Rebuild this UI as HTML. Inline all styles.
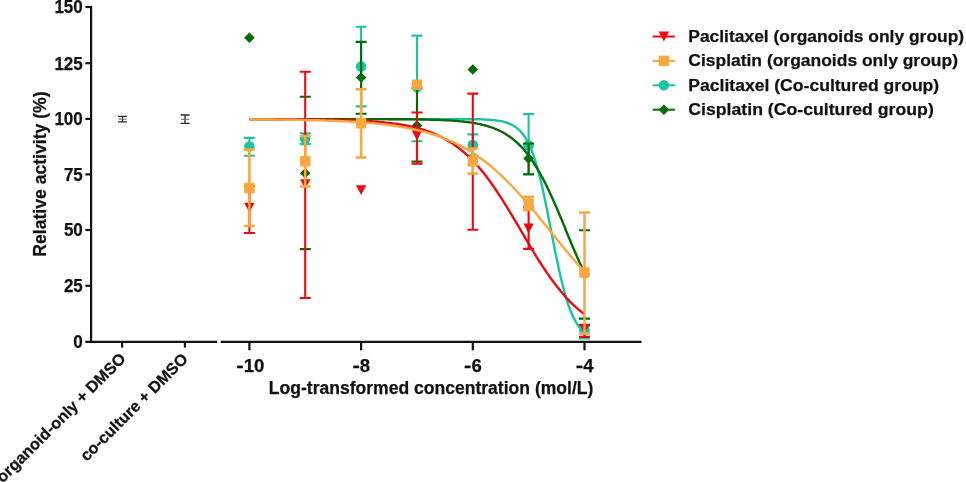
<!DOCTYPE html>
<html lang="en"><head><meta charset="utf-8"><title>Dose response</title>
<style>html,body{margin:0;padding:0;background:#fff}svg{display:block}text{font-family:"Liberation Sans",Arial,sans-serif;font-weight:bold;fill:#111;stroke:#111;stroke-width:0.25px}</style></head><body>
<svg width="966" height="482" viewBox="0 0 966 482">
<rect width="966" height="482" fill="#fff"/>
<g id="teal">
<polyline fill="none" stroke="#19C4A0" stroke-width="2.4" stroke-linejoin="round" points="249.4,119.1 250.8,119.1 252.2,119.1 253.6,119.1 255.0,119.1 256.4,119.1 257.8,119.1 259.2,119.1 260.6,119.1 262.0,119.1 263.4,119.1 264.8,119.1 266.2,119.1 267.6,119.1 268.9,119.1 270.3,119.1 271.7,119.1 273.1,119.1 274.5,119.1 275.9,119.1 277.3,119.1 278.7,119.1 280.1,119.1 281.5,119.1 282.9,119.1 284.3,119.1 285.7,119.1 287.1,119.1 288.5,119.1 289.9,119.1 291.3,119.1 292.7,119.1 294.1,119.1 295.5,119.1 296.9,119.1 298.3,119.1 299.7,119.1 301.1,119.1 302.5,119.1 303.9,119.1 305.2,119.1 306.6,119.1 308.0,119.1 309.4,119.1 310.8,119.1 312.2,119.1 313.6,119.1 315.0,119.1 316.4,119.1 317.8,119.1 319.2,119.1 320.6,119.1 322.0,119.1 323.4,119.1 324.8,119.1 326.2,119.1 327.6,119.1 329.0,119.1 330.4,119.1 331.8,119.1 333.2,119.1 334.6,119.1 336.0,119.1 337.4,119.1 338.8,119.1 340.2,119.1 341.6,119.1 342.9,119.1 344.3,119.1 345.7,119.1 347.1,119.1 348.5,119.1 349.9,119.1 351.3,119.1 352.7,119.1 354.1,119.1 355.5,119.1 356.9,119.1 358.3,119.1 359.7,119.1 361.1,119.1 362.5,119.1 363.9,119.1 365.3,119.1 366.7,119.1 368.1,119.1 369.5,119.1 370.9,119.1 372.3,119.1 373.7,119.1 375.1,119.1 376.5,119.1 377.9,119.1 379.3,119.1 380.6,119.1 382.0,119.1 383.4,119.1 384.8,119.1 386.2,119.1 387.6,119.1 389.0,119.1 390.4,119.1 391.8,119.1 393.2,119.1 394.6,119.1 396.0,119.1 397.4,119.1 398.8,119.1 400.2,119.1 401.6,119.1 403.0,119.1 404.4,119.1 405.8,119.1 407.2,119.1 408.6,119.1 410.0,119.1 411.4,119.1 412.8,119.1 414.2,119.1 415.6,119.1 417.0,119.1 418.3,119.1 419.7,119.1 421.1,119.1 422.5,119.1 423.9,119.1 425.3,119.1 426.7,119.1 428.1,119.1 429.5,119.1 430.9,119.1 432.3,119.1 433.7,119.1 435.1,119.1 436.5,119.1 437.9,119.1 439.3,119.1 440.7,119.1 442.1,119.1 443.5,119.1 444.9,119.1 446.3,119.1 447.7,119.1 449.1,119.1 450.5,119.1 451.9,119.1 453.3,119.1 454.6,119.1 456.0,119.1 457.4,119.1 458.8,119.1 460.2,119.1 461.6,119.1 463.0,119.1 464.4,119.1 465.8,119.1 467.2,119.1 468.6,119.2 470.0,119.2 471.4,119.2 472.8,119.2 474.2,119.2 475.6,119.3 477.0,119.3 478.4,119.3 479.8,119.3 481.2,119.4 482.6,119.4 484.0,119.5 485.4,119.6 486.8,119.6 488.2,119.7 489.6,119.8 491.0,119.9 492.3,120.0 493.7,120.1 495.1,120.3 496.5,120.5 497.9,120.6 499.3,120.9 500.7,121.1 502.1,121.4 503.5,121.7 504.9,122.1 506.3,122.5 507.7,123.0 509.1,123.5 510.5,124.1 511.9,124.8 513.3,125.5 514.7,126.4 516.1,127.4 517.5,128.5 518.9,129.7 520.3,131.1 521.7,132.7 523.1,134.5 524.5,136.4 525.9,138.6 527.3,141.1 528.6,143.8 530.0,146.8 531.4,150.1 532.8,153.7 534.2,157.7 535.6,162.0 537.0,166.6 538.4,171.7 539.8,177.1 541.2,182.8 542.6,188.8 544.0,195.2 545.4,201.8 546.8,208.7 548.2,215.7 549.6,222.9 551.0,230.1 552.4,237.3 553.8,244.5 555.2,251.5 556.6,258.4 558.0,265.1 559.4,271.5 560.8,277.6 562.2,283.3 563.6,288.8 565.0,293.9 566.3,298.6 567.7,303.0 569.1,307.0 570.5,310.7 571.9,314.0 573.3,317.1 574.7,319.8 576.1,322.3 577.5,324.5 578.9,326.5 580.3,328.3 581.7,329.9 583.1,331.3 584.5,332.6"/>
<path d="M249.4 137.9V155.7M243.9 137.9h11M243.9 155.7h11" fill="none" stroke="#19C4A0" stroke-width="2.1"/>
<circle cx="249.4" cy="146.6" r="5.3" fill="#19C4A0"/>
<path d="M305.2 133.3V144.1M299.8 133.3h11M299.8 144.1h11" fill="none" stroke="#19C4A0" stroke-width="2.1"/>
<circle cx="305.2" cy="138.7" r="5.3" fill="#19C4A0"/>
<path d="M361.1 26.7V106.4M355.6 26.7h11M355.6 106.4h11" fill="none" stroke="#19C4A0" stroke-width="2.1"/>
<circle cx="361.1" cy="66.5" r="5.3" fill="#19C4A0"/>
<path d="M417.0 35.6V141.2M411.5 35.6h11M411.5 141.2h11" fill="none" stroke="#19C4A0" stroke-width="2.1"/>
<circle cx="417.0" cy="87.2" r="5.3" fill="#19C4A0"/>
<path d="M472.8 134.4V155.6M467.3 134.4h11M467.3 155.6h11" fill="none" stroke="#19C4A0" stroke-width="2.1"/>
<circle cx="472.8" cy="145.0" r="5.3" fill="#19C4A0"/>
<path d="M528.6 114.1V174.5M523.1 114.1h11M523.1 174.5h11" fill="none" stroke="#19C4A0" stroke-width="2.1"/>
<circle cx="528.6" cy="145.4" r="5.3" fill="#19C4A0"/>
<path d="M584.5 326.0V338.4M579.0 326.0h11M579.0 338.4h11" fill="none" stroke="#19C4A0" stroke-width="2.1"/>
<circle cx="584.5" cy="330.0" r="5.3" fill="#19C4A0"/>
</g>
<g id="green">
<polyline fill="none" stroke="#056A08" stroke-width="2.4" stroke-linejoin="round" points="249.4,119.1 250.8,119.1 252.2,119.1 253.6,119.1 255.0,119.1 256.4,119.1 257.8,119.1 259.2,119.1 260.6,119.1 262.0,119.1 263.4,119.1 264.8,119.1 266.2,119.1 267.6,119.1 268.9,119.1 270.3,119.1 271.7,119.1 273.1,119.1 274.5,119.1 275.9,119.1 277.3,119.1 278.7,119.1 280.1,119.1 281.5,119.1 282.9,119.1 284.3,119.1 285.7,119.1 287.1,119.1 288.5,119.1 289.9,119.1 291.3,119.1 292.7,119.1 294.1,119.1 295.5,119.1 296.9,119.1 298.3,119.1 299.7,119.1 301.1,119.1 302.5,119.1 303.9,119.1 305.2,119.1 306.6,119.1 308.0,119.1 309.4,119.1 310.8,119.1 312.2,119.1 313.6,119.1 315.0,119.1 316.4,119.1 317.8,119.1 319.2,119.1 320.6,119.1 322.0,119.1 323.4,119.1 324.8,119.1 326.2,119.1 327.6,119.1 329.0,119.1 330.4,119.1 331.8,119.1 333.2,119.1 334.6,119.1 336.0,119.1 337.4,119.1 338.8,119.1 340.2,119.1 341.6,119.1 342.9,119.1 344.3,119.1 345.7,119.1 347.1,119.1 348.5,119.1 349.9,119.1 351.3,119.1 352.7,119.1 354.1,119.1 355.5,119.1 356.9,119.1 358.3,119.1 359.7,119.1 361.1,119.1 362.5,119.1 363.9,119.1 365.3,119.1 366.7,119.1 368.1,119.1 369.5,119.1 370.9,119.1 372.3,119.1 373.7,119.1 375.1,119.1 376.5,119.1 377.9,119.1 379.3,119.1 380.6,119.1 382.0,119.1 383.4,119.1 384.8,119.1 386.2,119.1 387.6,119.1 389.0,119.2 390.4,119.2 391.8,119.2 393.2,119.2 394.6,119.2 396.0,119.2 397.4,119.2 398.8,119.2 400.2,119.2 401.6,119.2 403.0,119.2 404.4,119.2 405.8,119.3 407.2,119.3 408.6,119.3 410.0,119.3 411.4,119.3 412.8,119.3 414.2,119.4 415.6,119.4 417.0,119.4 418.3,119.4 419.7,119.4 421.1,119.5 422.5,119.5 423.9,119.5 425.3,119.5 426.7,119.6 428.1,119.6 429.5,119.6 430.9,119.7 432.3,119.7 433.7,119.8 435.1,119.8 436.5,119.8 437.9,119.9 439.3,119.9 440.7,120.0 442.1,120.1 443.5,120.1 444.9,120.2 446.3,120.3 447.7,120.3 449.1,120.4 450.5,120.5 451.9,120.6 453.3,120.7 454.6,120.8 456.0,120.9 457.4,121.0 458.8,121.1 460.2,121.3 461.6,121.4 463.0,121.5 464.4,121.7 465.8,121.9 467.2,122.0 468.6,122.2 470.0,122.4 471.4,122.6 472.8,122.8 474.2,123.1 475.6,123.3 477.0,123.6 478.4,123.9 479.8,124.2 481.2,124.5 482.6,124.8 484.0,125.1 485.4,125.5 486.8,125.9 488.2,126.3 489.6,126.8 491.0,127.2 492.3,127.7 493.7,128.2 495.1,128.8 496.5,129.4 497.9,130.0 499.3,130.6 500.7,131.3 502.1,132.0 503.5,132.8 504.9,133.6 506.3,134.5 507.7,135.4 509.1,136.3 510.5,137.3 511.9,138.3 513.3,139.4 514.7,140.6 516.1,141.8 517.5,143.1 518.9,144.4 520.3,145.8 521.7,147.3 523.1,148.8 524.5,150.4 525.9,152.1 527.3,153.8 528.6,155.6 530.0,157.5 531.4,159.5 532.8,161.5 534.2,163.7 535.6,165.9 537.0,168.2 538.4,170.5 539.8,173.0 541.2,175.5 542.6,178.1 544.0,180.8 545.4,183.5 546.8,186.3 548.2,189.2 549.6,192.2 551.0,195.2 552.4,198.3 553.8,201.4 555.2,204.6 556.6,207.8 558.0,211.1 559.4,214.4 560.8,217.7 562.2,221.0 563.6,224.4 565.0,227.8 566.3,231.2 567.7,234.6 569.1,238.0 570.5,241.3 571.9,244.7 573.3,248.0 574.7,251.3 576.1,254.5 577.5,257.8 578.9,260.9 580.3,264.0 581.7,267.1 583.1,270.1 584.5,273.0"/>
<path d="M249.4 32.5l5.3 5.3l-5.3 5.3l-5.3 -5.3z" fill="#056A08"/>
<path d="M299.8 96.8h11M299.8 249.1h11" fill="none" stroke="#056A08" stroke-width="2.1"/>
<path d="M305.2 167.9l5.3 5.3l-5.3 5.3l-5.3 -5.3z" fill="#056A08"/>
<path d="M361.1 41.9V113.8M355.6 41.9h11M355.6 113.8h11" fill="none" stroke="#056A08" stroke-width="2.1"/>
<path d="M361.1 72.2l5.3 5.3l-5.3 5.3l-5.3 -5.3z" fill="#056A08"/>
<path d="M417.0 88.5V161.5M411.5 88.5h11M411.5 161.5h11" fill="none" stroke="#056A08" stroke-width="2.1"/>
<path d="M417.0 120.3l5.3 5.3l-5.3 5.3l-5.3 -5.3z" fill="#056A08"/>
<path d="M472.8 64.2l5.3 5.3l-5.3 5.3l-5.3 -5.3z" fill="#056A08"/>
<path d="M528.6 143.5V174.3M523.1 143.5h11M523.1 174.3h11" fill="none" stroke="#056A08" stroke-width="2.1"/>
<path d="M528.6 153.2l5.3 5.3l-5.3 5.3l-5.3 -5.3z" fill="#056A08"/>
<path d="M579.0 230.2h11M579.0 318.6h11" fill="none" stroke="#056A08" stroke-width="2.1"/>
<path d="M584.5 268.7l5.3 5.3l-5.3 5.3l-5.3 -5.3z" fill="#056A08"/>
</g>
<g id="red">
<polyline fill="none" stroke="#EC0A12" stroke-width="2.4" stroke-linejoin="round" points="249.4,119.1 250.8,119.1 252.2,119.1 253.6,119.1 255.0,119.1 256.4,119.1 257.8,119.1 259.2,119.1 260.6,119.1 262.0,119.1 263.4,119.1 264.8,119.1 266.2,119.1 267.6,119.1 268.9,119.2 270.3,119.2 271.7,119.2 273.1,119.2 274.5,119.2 275.9,119.2 277.3,119.2 278.7,119.2 280.1,119.2 281.5,119.2 282.9,119.2 284.3,119.2 285.7,119.2 287.1,119.2 288.5,119.2 289.9,119.2 291.3,119.2 292.7,119.3 294.1,119.3 295.5,119.3 296.9,119.3 298.3,119.3 299.7,119.3 301.1,119.3 302.5,119.3 303.9,119.3 305.2,119.4 306.6,119.4 308.0,119.4 309.4,119.4 310.8,119.4 312.2,119.4 313.6,119.4 315.0,119.5 316.4,119.5 317.8,119.5 319.2,119.5 320.6,119.5 322.0,119.6 323.4,119.6 324.8,119.6 326.2,119.6 327.6,119.7 329.0,119.7 330.4,119.7 331.8,119.7 333.2,119.8 334.6,119.8 336.0,119.8 337.4,119.9 338.8,119.9 340.2,119.9 341.6,120.0 342.9,120.0 344.3,120.1 345.7,120.1 347.1,120.1 348.5,120.2 349.9,120.2 351.3,120.3 352.7,120.3 354.1,120.4 355.5,120.5 356.9,120.5 358.3,120.6 359.7,120.7 361.1,120.7 362.5,120.8 363.9,120.9 365.3,120.9 366.7,121.0 368.1,121.1 369.5,121.2 370.9,121.3 372.3,121.4 373.7,121.5 375.1,121.6 376.5,121.7 377.9,121.8 379.3,121.9 380.6,122.1 382.0,122.2 383.4,122.3 384.8,122.5 386.2,122.6 387.6,122.8 389.0,122.9 390.4,123.1 391.8,123.3 393.2,123.5 394.6,123.6 396.0,123.8 397.4,124.0 398.8,124.3 400.2,124.5 401.6,124.7 403.0,124.9 404.4,125.2 405.8,125.5 407.2,125.7 408.6,126.0 410.0,126.3 411.4,126.6 412.8,126.9 414.2,127.3 415.6,127.6 417.0,128.0 418.3,128.3 419.7,128.7 421.1,129.1 422.5,129.5 423.9,130.0 425.3,130.4 426.7,130.9 428.1,131.4 429.5,131.9 430.9,132.4 432.3,133.0 433.7,133.5 435.1,134.1 436.5,134.7 437.9,135.4 439.3,136.0 440.7,136.7 442.1,137.4 443.5,138.2 444.9,138.9 446.3,139.7 447.7,140.5 449.1,141.4 450.5,142.2 451.9,143.1 453.3,144.1 454.6,145.0 456.0,146.0 457.4,147.1 458.8,148.1 460.2,149.2 461.6,150.3 463.0,151.5 464.4,152.7 465.8,154.0 467.2,155.2 468.6,156.5 470.0,157.9 471.4,159.3 472.8,160.7 474.2,162.2 475.6,163.7 477.0,165.2 478.4,166.8 479.8,168.4 481.2,170.1 482.6,171.8 484.0,173.5 485.4,175.3 486.8,177.1 488.2,179.0 489.6,180.9 491.0,182.8 492.3,184.8 493.7,186.7 495.1,188.8 496.5,190.8 497.9,192.9 499.3,195.1 500.7,197.2 502.1,199.4 503.5,201.6 504.9,203.8 506.3,206.1 507.7,208.4 509.1,210.7 510.5,213.0 511.9,215.3 513.3,217.7 514.7,220.0 516.1,222.4 517.5,224.7 518.9,227.1 520.3,229.5 521.7,231.9 523.1,234.3 524.5,236.6 525.9,239.0 527.3,241.4 528.6,243.7 530.0,246.1 531.4,248.4 532.8,250.7 534.2,253.0 535.6,255.3 537.0,257.6 538.4,259.8 539.8,262.0 541.2,264.2 542.6,266.3 544.0,268.4 545.4,270.5 546.8,272.6 548.2,274.6 549.6,276.6 551.0,278.6 552.4,280.5 553.8,282.4 555.2,284.3 556.6,286.1 558.0,287.8 559.4,289.6 560.8,291.3 562.2,292.9 563.6,294.6 565.0,296.1 566.3,297.7 567.7,299.2 569.1,300.6 570.5,302.1 571.9,303.5 573.3,304.8 574.7,306.1 576.1,307.4 577.5,308.6 578.9,309.8 580.3,311.0 581.7,312.1 583.1,313.2 584.5,314.3"/>
<path d="M249.4 186.0V233.0M243.9 186.0h11M243.9 233.0h11" fill="none" stroke="#EC0A12" stroke-width="2.1"/>
<path d="M244.2 202.7h10.4l-5.2 9.8z" fill="#EC0A12"/>
<path d="M305.2 71.7V298.0M299.8 71.7h11M299.8 298.0h11" fill="none" stroke="#EC0A12" stroke-width="2.1"/>
<path d="M300.1 179.3h10.4l-5.2 9.8z" fill="#EC0A12"/>
<path d="M355.9 185.2h10.4l-5.2 9.8z" fill="#EC0A12"/>
<path d="M417.0 112.5V163.6M411.5 112.5h11M411.5 163.6h11" fill="none" stroke="#EC0A12" stroke-width="2.1"/>
<path d="M411.8 130.6h10.4l-5.2 9.8z" fill="#EC0A12"/>
<path d="M472.8 93.6V229.7M467.3 93.6h11M467.3 229.7h11" fill="none" stroke="#EC0A12" stroke-width="2.1"/>
<path d="M467.6 156.8h10.4l-5.2 9.8z" fill="#EC0A12"/>
<path d="M528.6 207.0V248.9M523.1 207.0h11M523.1 248.9h11" fill="none" stroke="#EC0A12" stroke-width="2.1"/>
<path d="M523.4 223.5h10.4l-5.2 9.8z" fill="#EC0A12"/>
<path d="M584.5 325.0V336.9M579.0 325.0h11M579.0 336.9h11" fill="none" stroke="#EC0A12" stroke-width="2.1"/>
<path d="M579.3 323.7h10.4l-5.2 9.8z" fill="#EC0A12"/>
</g>
<g id="orange">
<polyline fill="none" stroke="#FBA740" stroke-width="2.4" stroke-linejoin="round" points="249.4,119.3 250.8,119.3 252.2,119.3 253.6,119.3 255.0,119.4 256.4,119.4 257.8,119.4 259.2,119.4 260.6,119.4 262.0,119.4 263.4,119.4 264.8,119.4 266.2,119.4 267.6,119.5 268.9,119.5 270.3,119.5 271.7,119.5 273.1,119.5 274.5,119.5 275.9,119.5 277.3,119.6 278.7,119.6 280.1,119.6 281.5,119.6 282.9,119.6 284.3,119.6 285.7,119.7 287.1,119.7 288.5,119.7 289.9,119.7 291.3,119.7 292.7,119.8 294.1,119.8 295.5,119.8 296.9,119.8 298.3,119.9 299.7,119.9 301.1,119.9 302.5,119.9 303.9,120.0 305.2,120.0 306.6,120.0 308.0,120.1 309.4,120.1 310.8,120.1 312.2,120.2 313.6,120.2 315.0,120.2 316.4,120.3 317.8,120.3 319.2,120.3 320.6,120.4 322.0,120.4 323.4,120.5 324.8,120.5 326.2,120.6 327.6,120.6 329.0,120.7 330.4,120.7 331.8,120.8 333.2,120.8 334.6,120.9 336.0,120.9 337.4,121.0 338.8,121.0 340.2,121.1 341.6,121.2 342.9,121.2 344.3,121.3 345.7,121.4 347.1,121.4 348.5,121.5 349.9,121.6 351.3,121.7 352.7,121.8 354.1,121.8 355.5,121.9 356.9,122.0 358.3,122.1 359.7,122.2 361.1,122.3 362.5,122.4 363.9,122.5 365.3,122.6 366.7,122.7 368.1,122.8 369.5,123.0 370.9,123.1 372.3,123.2 373.7,123.3 375.1,123.5 376.5,123.6 377.9,123.8 379.3,123.9 380.6,124.0 382.0,124.2 383.4,124.4 384.8,124.5 386.2,124.7 387.6,124.9 389.0,125.0 390.4,125.2 391.8,125.4 393.2,125.6 394.6,125.8 396.0,126.0 397.4,126.2 398.8,126.5 400.2,126.7 401.6,126.9 403.0,127.2 404.4,127.4 405.8,127.7 407.2,127.9 408.6,128.2 410.0,128.5 411.4,128.8 412.8,129.0 414.2,129.3 415.6,129.7 417.0,130.0 418.3,130.3 419.7,130.6 421.1,131.0 422.5,131.4 423.9,131.7 425.3,132.1 426.7,132.5 428.1,132.9 429.5,133.3 430.9,133.7 432.3,134.1 433.7,134.6 435.1,135.0 436.5,135.5 437.9,136.0 439.3,136.5 440.7,137.0 442.1,137.5 443.5,138.1 444.9,138.6 446.3,139.2 447.7,139.7 449.1,140.3 450.5,140.9 451.9,141.6 453.3,142.2 454.6,142.9 456.0,143.5 457.4,144.2 458.8,144.9 460.2,145.6 461.6,146.4 463.0,147.1 464.4,147.9 465.8,148.7 467.2,149.5 468.6,150.3 470.0,151.2 471.4,152.1 472.8,152.9 474.2,153.9 475.6,154.8 477.0,155.7 478.4,156.7 479.8,157.7 481.2,158.7 482.6,159.7 484.0,160.8 485.4,161.8 486.8,162.9 488.2,164.0 489.6,165.1 491.0,166.3 492.3,167.5 493.7,168.7 495.1,169.9 496.5,171.1 497.9,172.4 499.3,173.6 500.7,174.9 502.1,176.2 503.5,177.6 504.9,178.9 506.3,180.3 507.7,181.7 509.1,183.1 510.5,184.5 511.9,186.0 513.3,187.5 514.7,189.0 516.1,190.5 517.5,192.0 518.9,193.5 520.3,195.1 521.7,196.6 523.1,198.2 524.5,199.8 525.9,201.4 527.3,203.1 528.6,204.7 530.0,206.4 531.4,208.0 532.8,209.7 534.2,211.4 535.6,213.1 537.0,214.8 538.4,216.5 539.8,218.2 541.2,219.9 542.6,221.6 544.0,223.4 545.4,225.1 546.8,226.8 548.2,228.6 549.6,230.3 551.0,232.0 552.4,233.8 553.8,235.5 555.2,237.2 556.6,239.0 558.0,240.7 559.4,242.4 560.8,244.1 562.2,245.9 563.6,247.6 565.0,249.3 566.3,250.9 567.7,252.6 569.1,254.3 570.5,255.9 571.9,257.6 573.3,259.2 574.7,260.8 576.1,262.4 577.5,264.0 578.9,265.6 580.3,267.2 581.7,268.7 583.1,270.2 584.5,271.7"/>
<path d="M249.4 149.5V226.0M243.9 149.5h11M243.9 226.0h11" fill="none" stroke="#FBA740" stroke-width="2.5"/>
<rect x="244.2" y="182.8" width="10.4" height="10.4" fill="#FBA740"/>
<path d="M305.2 136.1V186.4M299.8 136.1h11M299.8 186.4h11" fill="none" stroke="#FBA740" stroke-width="2.5"/>
<rect x="300.1" y="156.1" width="10.4" height="10.4" fill="#FBA740"/>
<path d="M361.1 89.2V157.5M355.6 89.2h11M355.6 157.5h11" fill="none" stroke="#FBA740" stroke-width="2.5"/>
<rect x="355.9" y="118.1" width="10.4" height="10.4" fill="#FBA740"/>
<rect x="411.8" y="79.5" width="10.4" height="10.4" fill="#FBA740"/>
<path d="M472.8 148.5V173.6M467.3 148.5h11M467.3 173.6h11" fill="none" stroke="#FBA740" stroke-width="2.5"/>
<rect x="467.6" y="156.1" width="10.4" height="10.4" fill="#FBA740"/>
<path d="M528.6 196.8V210.0M523.1 196.8h11M523.1 210.0h11" fill="none" stroke="#FBA740" stroke-width="2.5"/>
<rect x="523.4" y="198.5" width="10.4" height="10.4" fill="#FBA740"/>
<path d="M584.5 212.4V333.4M579.0 212.4h11M579.0 333.4h11" fill="none" stroke="#FBA740" stroke-width="2.5"/>
<rect x="579.3" y="267.3" width="10.4" height="10.4" fill="#FBA740"/>
</g>
<g stroke="#2a2a2a" stroke-width="1.3" fill="none">
<path d="M118 116.3h9M118 121.8h9M122.5 116.3v5.5"/><path d="M118.5 119.1h8" stroke="#666" stroke-width="1"/>
<path d="M180.6 115h9M180.6 123.4h9M185 115v8.4"/><path d="M181 119.3h8" stroke="#666" stroke-width="1"/>
</g>
<g stroke="#111" stroke-width="2.2" fill="none">
<path d="M91.1 6V342.9"/>
<path d="M85.4 341.8H217.2M220.7 341.8H641.5"/>
<path d="M85.4 7.0H91"/>
<path d="M85.4 63.2H91"/>
<path d="M85.4 118.9H91"/>
<path d="M85.4 174.4H91"/>
<path d="M85.4 230.0H91"/>
<path d="M85.4 285.8H91"/>
<path d="M122.1 341.8V347.6"/>
<path d="M184.9 341.8V347.6"/>
<path d="M249.4 341.8V350.3"/>
<path d="M361.1 341.8V350.3"/>
<path d="M472.8 341.8V350.3"/>
<path d="M584.5 341.8V350.3"/>
</g>
<text x="54.4" y="13.4" font-size="17.9" textLength="28.4" lengthAdjust="spacingAndGlyphs">150</text>
<text x="54.4" y="69.6" font-size="17.9" textLength="28.4" lengthAdjust="spacingAndGlyphs">125</text>
<text x="54.4" y="125.3" font-size="17.9" textLength="28.4" lengthAdjust="spacingAndGlyphs">100</text>
<text x="63.9" y="180.8" font-size="17.9" textLength="18.9" lengthAdjust="spacingAndGlyphs">75</text>
<text x="63.9" y="236.4" font-size="17.9" textLength="18.9" lengthAdjust="spacingAndGlyphs">50</text>
<text x="63.9" y="292.2" font-size="17.9" textLength="18.9" lengthAdjust="spacingAndGlyphs">25</text>
<text x="73.3" y="348.2" font-size="17.9" textLength="9.5" lengthAdjust="spacingAndGlyphs">0</text>
<text x="236.3" y="371.9" font-size="17.8"><tspan textLength="7.4" lengthAdjust="spacingAndGlyphs">-</tspan><tspan textLength="20.7" lengthAdjust="spacingAndGlyphs">10</tspan></text>
<text x="352.4" y="371.9" font-size="17.8"><tspan textLength="7.4" lengthAdjust="spacingAndGlyphs">-</tspan><tspan textLength="10.3" lengthAdjust="spacingAndGlyphs">8</tspan></text>
<text x="464.1" y="371.9" font-size="17.8"><tspan textLength="7.4" lengthAdjust="spacingAndGlyphs">-</tspan><tspan textLength="10.3" lengthAdjust="spacingAndGlyphs">6</tspan></text>
<text x="575.8" y="371.9" font-size="17.8"><tspan textLength="7.4" lengthAdjust="spacingAndGlyphs">-</tspan><tspan textLength="10.3" lengthAdjust="spacingAndGlyphs">4</tspan></text>
<text x="431.1" y="394.1" font-size="17.5" text-anchor="middle" textLength="324.5" lengthAdjust="spacingAndGlyphs">Log-transformed concentration (mol/L)</text>
<text transform="translate(46.1 174.05) rotate(-90)" font-size="17.5" text-anchor="middle" textLength="165.2" lengthAdjust="spacingAndGlyphs">Relative activity (%)</text>
<text transform="translate(126.7 359.6) rotate(-45)" font-size="16.1" text-anchor="end" textLength="175.3" lengthAdjust="spacingAndGlyphs">organoid-only + DMSO</text>
<text transform="translate(188.8 360.0) rotate(-45)" font-size="16.1" text-anchor="end">co-culture + DMSO</text>
<path d="M652.6 36.5H674.9" stroke="#EC0A12" stroke-width="2" fill="none"/>
<path d="M658.7 31.6h10.4l-5.2 9.8z" fill="#EC0A12"/>
<text x="688.3" y="41.9" font-size="17.4" textLength="275.8" lengthAdjust="spacingAndGlyphs">Paclitaxel (organoids only group)</text>
<path d="M652.6 61.0H674.9" stroke="#FBA740" stroke-width="2" fill="none"/>
<rect x="658.7" y="55.6" width="10.4" height="10.4" fill="#FBA740"/>
<text x="688.3" y="66.2" font-size="17.4" textLength="269.7" lengthAdjust="spacingAndGlyphs">Cisplatin (organoids only group)</text>
<path d="M652.6 85.3H674.9" stroke="#19C4A0" stroke-width="2" fill="none"/>
<circle cx="663.9" cy="85.3" r="5.3" fill="#19C4A0"/>
<text x="688.3" y="90.5" font-size="17.4" textLength="250.9" lengthAdjust="spacingAndGlyphs">Paclitaxel (Co-cultured group)</text>
<path d="M652.6 109.7H674.9" stroke="#056A08" stroke-width="2" fill="none"/>
<path d="M663.9 104.4l5.3 5.3l-5.3 5.3l-5.3 -5.3z" fill="#056A08"/>
<text x="688.3" y="114.8" font-size="17.4" textLength="245.5" lengthAdjust="spacingAndGlyphs">Cisplatin (Co-cultured group)</text>
</svg></body></html>
